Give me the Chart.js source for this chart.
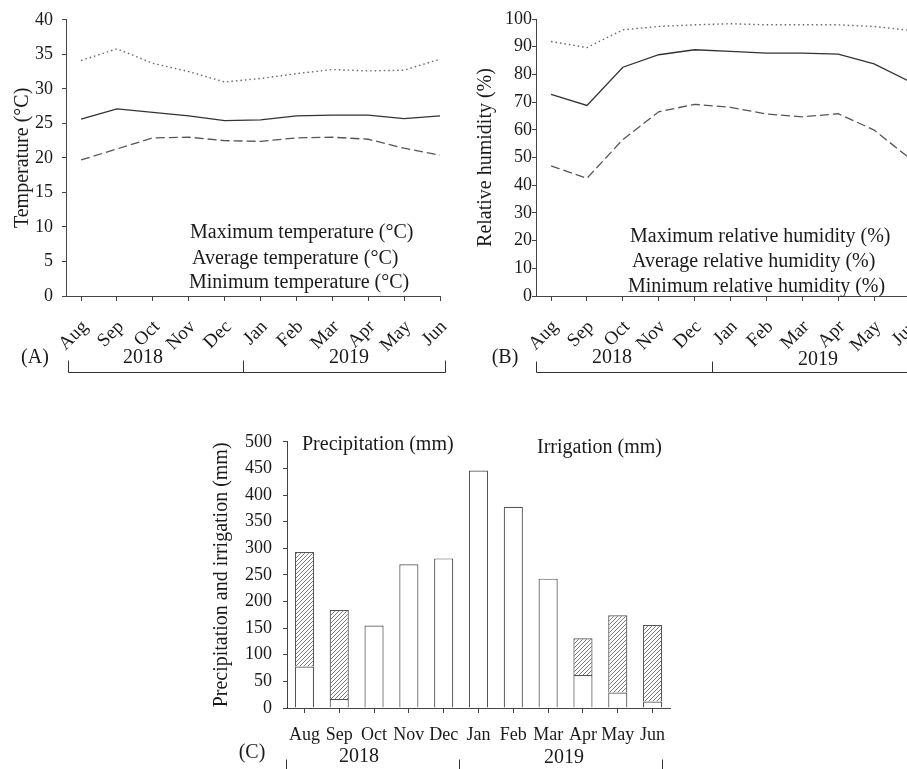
<!DOCTYPE html>
<html><head><meta charset="utf-8">
<script src="https://cdn.jsdelivr.net/npm/chart.js@4"></script>
<style>
html,body{margin:0;padding:0;background:#fff;overflow:hidden;width:907px;height:769px;}
.c{position:absolute;}
#wa{left:0;top:0;width:460px;height:390px;}
#wb{left:470px;top:0;width:460px;height:390px;}
#wc{left:190px;top:420px;width:520px;height:349px;}
</style></head><body>
<div class="c" id="wa"><canvas id="ca" width="460" height="390"></canvas></div>
<div class="c" id="wb"><canvas id="cb" width="460" height="390"></canvas></div>
<div class="c" id="wc"><canvas id="cc" width="520" height="349"></canvas></div>
<script>
// ---- data ----
const months = ['Aug','Sep','Oct','Nov','Dec','Jan','Feb','Mar','Apr','May','Jun'];
const years = ['2018','2019'];
const panelTags = ['(A)','(B)','(C)'];
const tempMax = [34.1,35.8,33.7,32.5,31.0,31.5,32.2,32.8,32.6,32.7,34.3];
const tempAvg = [25.6,27.1,26.6,26.1,25.4,25.5,26.1,26.2,26.2,25.7,26.1];
const tempMin = [19.7,21.3,22.9,23.0,22.5,22.4,22.9,23.0,22.7,21.4,20.4];
const rhMax = [91.9,89.7,96.1,97.3,97.9,98.3,97.9,97.9,97.9,97.3,95.9];
const rhAvg = [72.8,68.8,82.6,87.1,88.9,88.3,87.7,87.7,87.3,83.8,77.4];
const rhMin = [47.0,42.5,56.5,66.5,69.2,68.1,65.7,64.7,65.8,59.9,49.6];
const precip = [78,17,155,270,281,446,378,243,62,29,12];
const irrig = [215,167,0,0,0,0,0,0,69,145,144];
const tempTicks = [0,5,10,15,20,25,30,35,40];
const rhTicks = [0,10,20,30,40,50,60,70,80,90,100];
const rainTicks = [0,50,100,150,200,250,300,350,400,450,500];

const F = "'Liberation Serif','Times New Roman',serif";
const TXT = '#1a1a1a';
const AX = '#444';

const annot = {
  id:'annot',
  afterDraw(chart, args, o){
    const ctx = chart.ctx; ctx.save();
    ctx.fillStyle = TXT;
    ctx.textBaseline = 'middle';
    ctx.font = "20px " + F;
    (o.legend||[]).forEach((p,i)=>{
      ctx.textAlign = 'left';
      ctx.fillText(chart.data.datasets[i].label, p[0], p[1]);
    });
    (o.texts||[]).forEach(t=>{
      ctx.textAlign = 'center';
      ctx.fillText(t[0], t[1], t[2]);
    });
    ctx.strokeStyle = '#333'; ctx.lineWidth = 1;
    (o.lines||[]).forEach(l=>{
      ctx.beginPath(); ctx.moveTo(l[0]+0.5,l[1]+0.5); ctx.lineTo(l[2]+0.5,l[3]+0.5); ctx.stroke();
    });
    ctx.restore();
  }
};

function pts(arr){ return arr.map((v,i)=>({x:i,y:v})); }

function lineChart(id, ds, yTicks, yTitle, yPad, yWidth, padLeft, annotOpts){
  return new Chart(document.getElementById(id), {
    type:'line',
    data:{ datasets: ds },
    options:{
      responsive:false, animation:false,
      layout:{padding:{left:padLeft, top:19, right:20, bottom:0}},
      plugins:{legend:{display:false}, tooltip:{enabled:false}, annot:annotOpts},
      elements:{point:{radius:0}, line:{tension:0}},
      scales:{
        x:{ type:'linear', min:-0.42, max:10,
            afterBuildTicks: s => { s.ticks = months.map((m,i)=>({value:i})); },
            ticks:{ autoSkip:false, minRotation:45, maxRotation:45, padding:15, labelOffset:4, color:TXT,
                    font:{family:F,size:19}, callback:(v)=>months[v] },
            grid:{ drawOnChartArea:false, drawTicks:true, tickLength:5, color:AX },
            border:{ color:AX, width:1 },
            afterFit: s => { s.height = 94; s.paddingLeft = 0; s.paddingRight = 0; } },
        y:{ min:yTicks[0], max:yTicks[yTicks.length-1],
            afterBuildTicks: s => { s.ticks = yTicks.map(v=>({value:v})); },
            ticks:{ padding:yPad, color:TXT, font:{family:F,size:18} },
            grid:{ drawOnChartArea:false, drawTicks:true, tickLength:4, color:AX },
            border:{ color:AX, width:1 },
            title:{ display:true, text:yTitle, color:TXT, font:{family:F,size:20}, padding:{top:4,bottom:4} },
            afterFit: s => { s.width = yWidth; } }
      }
    },
    plugins:[annot]
  });
}

function lineSets(mx, av, mn, labels){
  return [
    {label:labels[0], data:pts(mx), borderColor:'#666', borderWidth:1.4, borderDash:[1.5,3]},
    {label:labels[1], data:pts(av), borderColor:'#333', borderWidth:1.3},
    {label:labels[2], data:pts(mn), borderColor:'#555', borderWidth:1.3, borderDash:[9,4]}
  ];
}

lineChart('ca',
  lineSets(tempMax, tempAvg, tempMin, ['Maximum temperature (°C)','Average temperature (°C)','Minimum temperature (°C)']),
  tempTicks, 'Temperature (°C)', 9, 59, 7,
  { legend:[[190,233],[192,259],[189,283]],
    texts:[[panelTags[0],35,358],[years[0],143,358],[years[1],349,358]],
    lines:[[68,372,445,372],[68,360,68,372],[243,360,243,372],[445,360,445,372]] });

lineChart('cb',
  lineSets(rhMax, rhAvg, rhMin, ['Maximum relative humidity (%)','Average relative humidity (%)','Minimum relative humidity (%)']),
  rhTicks, 'Relative humidity (%)', 0, 66, 0,
  { legend:[[160,237],[162,262],[158,287]],
    texts:[[panelTags[1],35,358],[years[0],142,358],[years[1],348,360]],
    lines:[[66,372,460,372],[66,361,66,372],[242,361,242,372]] });

// hatch pattern
function hatch(ctx){
  const c = document.createElement('canvas'); c.width = 4; c.height = 4;
  const g = c.getContext('2d');
  g.fillStyle = '#fff'; g.fillRect(0,0,4,4);
  g.strokeStyle = '#555'; g.lineWidth = 0.8;
  g.beginPath();
  g.moveTo(0,4); g.lineTo(4,0);
  g.moveTo(-1,1); g.lineTo(1,-1);
  g.moveTo(3,5); g.lineTo(5,3);
  g.stroke();
  return ctx.createPattern(c,'repeat');
}
const cc = document.getElementById('cc');
const pat = hatch(cc.getContext('2d'));

new Chart(cc, {
  type:'bar',
  data:{ labels: months, datasets:[
    {label:'Precipitation (mm)', data:precip, backgroundColor:'#fff', borderColor:'#555', borderWidth:1.2, stack:'s'},
    {label:'Irrigation (mm)', data:irrig, backgroundColor:pat, borderColor:'#555', borderWidth:1.2, stack:'s'}
  ]},
  options:{
    responsive:false, animation:false,
    layout:{padding:{left:16, top:12, right:40, bottom:0}},
    plugins:{legend:{display:false}, tooltip:{enabled:false},
      annot:{ legend:[[112,25],[347,28]],
              texts:[[panelTags[2],62,333],[years[0],169,337],[years[1],374,338]],
              lines:[[96,339,96,349],[269,339,269,349],[472,339,472,349]] } },
    datasets:{bar:{categoryPercentage:1, barPercentage:0.55}},
    scales:{
      x:{ stacked:true,
          ticks:{ autoSkip:false, maxRotation:0, minRotation:0, padding:11, color:TXT, font:{family:F,size:18} },
          grid:{ drawOnChartArea:false, drawTicks:true, tickLength:5, color:AX, offset:false },
          border:{ color:AX, width:1 },
          afterFit: s => { s.height = 61; } },
      y:{ stacked:true, min:0, max:500,
          afterBuildTicks: s => { s.ticks = rainTicks.map(v=>({value:v})); },
          ticks:{ padding:11, color:TXT, font:{family:F,size:18} },
          grid:{ drawOnChartArea:false, drawTicks:true, tickLength:4, color:AX },
          border:{ color:AX, width:1 },
          title:{ display:true, text:'Precipitation and irrigation (mm)', color:TXT, font:{family:F,size:20}, padding:{top:4,bottom:4} },
          afterFit: s => { s.width = 81; } }
    }
  },
  plugins:[annot]
});
</script>
</body></html>
